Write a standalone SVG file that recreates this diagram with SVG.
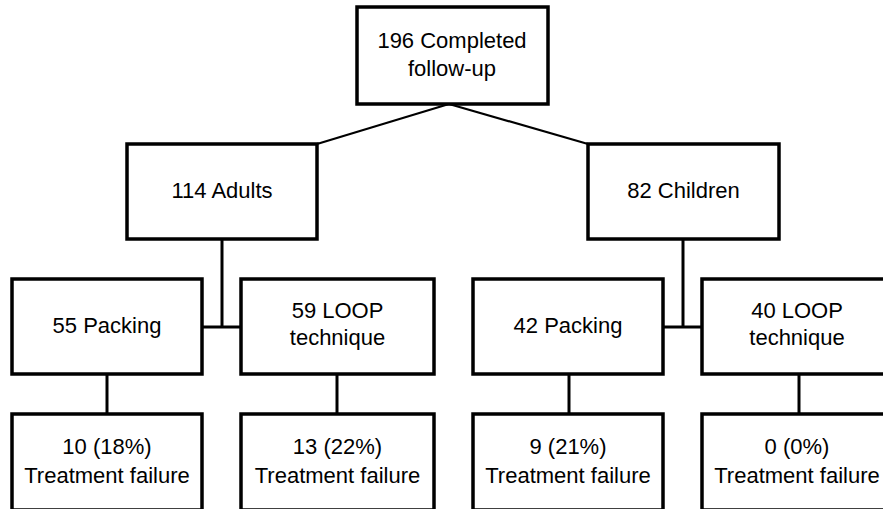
<svg xmlns="http://www.w3.org/2000/svg" width="883" height="509" viewBox="0 0 883 509">
<style>
.box{fill:#fff;stroke:#000;stroke-width:3.5}
.t{font-family:"Liberation Sans",Arial,sans-serif;font-size:22px;fill:#000;text-anchor:middle}
.c{stroke:#000;stroke-width:3;fill:none}
.d{stroke:#000;stroke-width:2.2;fill:none}
</style>
<rect width="883" height="509" fill="#fff"/>
<g id="connectors">
<line class="d" x1="449" y1="104" x2="317" y2="144"/>
<line class="d" x1="449" y1="104" x2="588" y2="144"/>
<line class="c" x1="222" y1="239" x2="222" y2="327"/>
<line class="c" x1="202" y1="327" x2="241" y2="327"/>
<line class="c" x1="683" y1="239" x2="683" y2="327"/>
<line class="c" x1="663" y1="327" x2="702" y2="327"/>
<line class="c" x1="107" y1="374" x2="107" y2="414"/>
<line class="c" x1="337" y1="374" x2="337" y2="414"/>
<line class="c" x1="569" y1="374" x2="569" y2="414"/>
<line class="c" x1="799" y1="374" x2="799" y2="414"/>
</g>
<g id="n-total"><rect class="box" x="357" y="7" width="191" height="97"/><text class="t" x="452" y="48">196 Completed</text><text class="t" x="452" y="76">follow-up</text></g>
<g id="n-adults"><rect class="box" x="127" y="144" width="190" height="95"/><text class="t" x="222" y="198">114 Adults</text></g>
<g id="n-children"><rect class="box" x="588" y="144" width="191" height="95"/><text class="t" x="683.5" y="198">82 Children</text></g>
<g id="n-a-pack"><rect class="box" x="12" y="279" width="190" height="95"/><text class="t" x="107" y="333">55 Packing</text></g>
<g id="n-a-loop"><rect class="box" x="241" y="279" width="193" height="95"/><text class="t" x="337.5" y="318">59 LOOP</text><text class="t" x="337.5" y="345">technique</text></g>
<g id="n-c-pack"><rect class="box" x="473" y="279" width="190" height="95"/><text class="t" x="568" y="333">42 Packing</text></g>
<g id="n-c-loop"><rect class="box" x="702" y="279" width="193" height="95"/><text class="t" x="797" y="318">40 LOOP</text><text class="t" x="797" y="345">technique</text></g>
<g id="n-a-pack-f"><rect class="box" x="12" y="414" width="190" height="96"/><text class="t" x="107" y="454">10 (18%)</text><text class="t" x="107" y="483">Treatment failure</text></g>
<g id="n-a-loop-f"><rect class="box" x="241" y="414" width="193" height="96"/><text class="t" x="337.5" y="454">13 (22%)</text><text class="t" x="337.5" y="483">Treatment failure</text></g>
<g id="n-c-pack-f"><rect class="box" x="473" y="414" width="190" height="96"/><text class="t" x="568" y="454">9 (21%)</text><text class="t" x="568" y="483">Treatment failure</text></g>
<g id="n-c-loop-f"><rect class="box" x="702" y="414" width="193" height="96"/><text class="t" x="797" y="454">0 (0%)</text><text class="t" x="797" y="483">Treatment failure</text></g>
</svg>
